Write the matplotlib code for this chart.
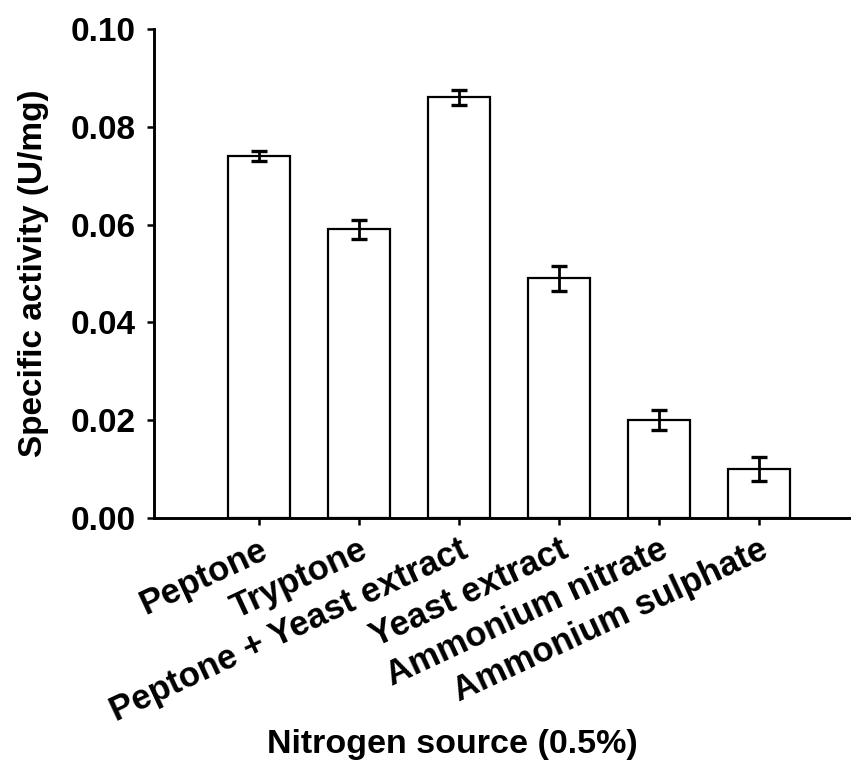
import matplotlib
matplotlib.use('Agg')
import matplotlib.pyplot as plt
import numpy as np

# data
sources = ['Peptone', 'Tryptone', 'Peptone + Yeast extract', 'Yeast extract',
           'Ammonium nitrate', 'Ammonium sulphate']
activity = [0.074, 0.059, 0.086, 0.049, 0.020, 0.010]
err = [0.001, 0.002, 0.0015, 0.0026, 0.002, 0.0025]

plt.rcParams['font.family'] = ['Liberation Sans', 'DejaVu Sans']
plt.rcParams['font.weight'] = 'bold'

fig = plt.figure(figsize=(8.51, 7.67), dpi=100)
ax = fig.add_axes([154 / 851, 249 / 767, 697 / 851, 489 / 767])

x = np.arange(len(sources))
ax.bar(x, activity, width=0.62, color='white', edgecolor='black', linewidth=1.6, zorder=2)
ax.errorbar(x, activity, yerr=err, fmt='none', ecolor='black', elinewidth=2,
            capsize=6, capthick=2.4, zorder=3)

ax.set_xlim(-1.05, 5.92)
ax.set_ylim(0, 0.10)
ax.set_yticks([0.0, 0.02, 0.04, 0.06, 0.08, 0.10])
ax.set_yticklabels(['0.00', '0.02', '0.04', '0.06', '0.08', '0.10'])
ax.set_xticks(x)
ax.set_xticklabels(sources, rotation=25, ha='right', va='top', rotation_mode='anchor')

for s in ['top', 'right']:
    ax.spines[s].set_visible(False)
for s in ['left', 'bottom']:
    ax.spines[s].set_linewidth(2.1)

ax.tick_params(axis='y', direction='out', length=5, width=1.8, labelsize=24, pad=8)
ax.tick_params(axis='x', direction='out', length=5, width=1.8, labelsize=25, pad=6)
for lab in ax.get_xticklabels() + ax.get_yticklabels():
    lab.set_fontweight('bold')

ax.set_ylabel('Specific activity (U/mg)', fontsize=24, fontweight='bold', labelpad=16)
fig.text(452 / 851, 22 / 767, 'Nitrogen source (0.5%)', ha='center', va='center',
         fontsize=24.5, fontweight='bold')

fig.savefig('out.png', dpi=100)
